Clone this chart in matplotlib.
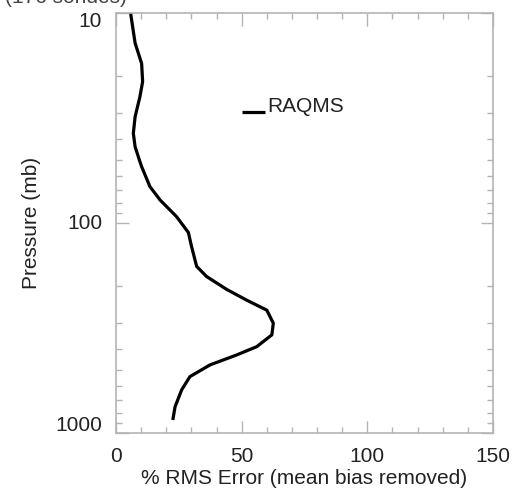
import matplotlib
matplotlib.use('Agg')
import matplotlib.pyplot as plt
import matplotlib.transforms as mtransforms
from matplotlib.ticker import FixedLocator, LogLocator, NullFormatter

plt.rcParams['font.family'] = ['Liberation Sans', 'DejaVu Sans']

# profile: % RMS error vs pressure (mb)
rms_error = [5.8, 7.6, 10.2, 10.6, 9.5, 7.6, 6.9, 7.6, 9.3, 10.2, 13.5, 17.5, 24.1,
             28.8, 30.1, 32.1, 36.1, 44.0, 52.0, 60.0, 62.6, 62.0, 56.0, 48.0, 37.4,
             29.4, 26.1, 23.5, 22.6]
pressure = [10, 13.9, 17.4, 21.2, 25.1, 31.2, 37.4, 43.3, 50.1, 53.9, 67.1, 77.6, 93.3,
            111, 130, 161, 180, 207, 233, 260, 300, 341, 388, 425, 474,
            539, 624, 750, 867]

series_name = 'RAQMS'
title_text = '(176 sondes)'
x_ticks = [0, 50, 100, 150]
y_ticks = [10, 100, 1000]

fig = plt.figure(figsize=(5.16, 4.93), dpi=100)
ax = fig.add_axes([0.2248, 0.1217, 0.7306, 0.8519])

ax.plot(rms_error, pressure, color='black', lw=2.3, solid_capstyle='butt')

ax.set_yscale('log')
ax.set_ylim(1000, 10)
ax.set_xlim(0, 150)

ax.xaxis.set_major_locator(FixedLocator(x_ticks))
ax.xaxis.set_minor_locator(FixedLocator(range(0, 151, 10)))
ax.yaxis.set_major_locator(FixedLocator(y_ticks))
ax.yaxis.set_minor_locator(LogLocator(base=10, subs=range(2, 10)))
ax.yaxis.set_minor_formatter(NullFormatter())
ax.set_yticklabels([str(v) for v in y_ticks])
ax.set_xticklabels([str(v) for v in x_ticks])

gray = '#b4b4b4'
for s in ax.spines.values():
    s.set_color(gray)
    s.set_linewidth(1.2)
ax.tick_params(which='both', direction='in', top=True, right=True, color=gray,
               width=1.0, labelsize=15, labelcolor='#222222')
ax.tick_params(which='major', length=9, pad=10)
ax.tick_params(which='minor', length=4.5)

# the y labels sit a little off their ticks in the original (10 lower, 1000 higher)
shifts = [-6, 2, 10]
for lab, dy in zip(ax.get_yticklabels(), shifts):
    lab.set_transform(lab.get_transform() +
                      mtransforms.ScaledTranslation(0, dy / 100, fig.dpi_scale_trans))

ax.set_xlabel('% RMS Error (mean bias removed)', fontsize=15, color='#222222', labelpad=2)
ax.set_ylabel('Pressure (mb)', fontsize=15, color='#222222', labelpad=10)

# legend drawn like the original: short line then label
ax.plot([50.0, 59.3], [29.6, 29.6], color='black', lw=2.3, solid_capstyle='butt')
ax.text(60.1, 29.6, series_name, fontsize=15, color='#222222', va='baseline', ha='left')

fig.text(0.01, 0.993, title_text, fontsize=15, color='#444444', va='baseline', ha='left')

fig.savefig('out.png', dpi=100)
